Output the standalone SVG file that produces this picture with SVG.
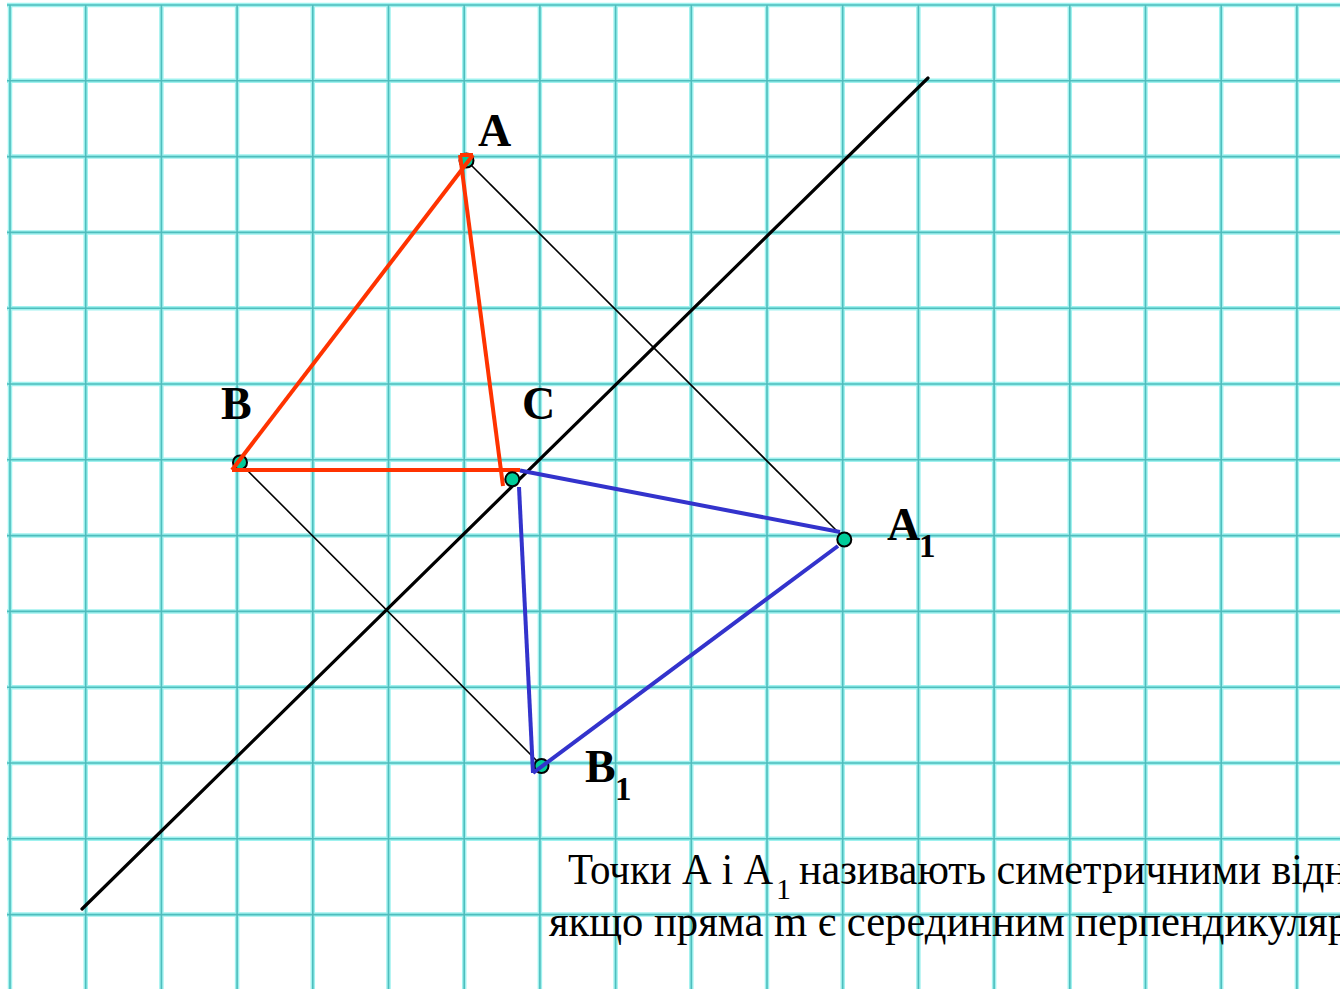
<svg xmlns="http://www.w3.org/2000/svg" width="1340" height="989" viewBox="0 0 1340 989">
<style>
.halo{stroke:#9ff2ef;stroke-width:4.5;fill:none}
.core{stroke:#4fbdbd;stroke-width:1.6;fill:none}
.axis{stroke:#000;stroke-width:3.2;fill:none;stroke-linecap:round}
.thin{stroke:#000;stroke-width:1.6;fill:none}
.red{stroke:#ff3300;stroke-width:4;fill:none;stroke-linecap:butt}
.blue{stroke:#3333cc;stroke-width:4;fill:none}
.pt{fill:#00cc99;stroke:#000;stroke-width:2}
.lbl{font-family:"Liberation Serif","Times New Roman",serif;font-weight:bold;font-size:46px;fill:#000}
.sub{font-family:"Liberation Serif","Times New Roman",serif;font-weight:bold;font-size:33px;fill:#000}
.txt{font-family:"Liberation Serif","Times New Roman",serif;font-size:45px;fill:#000}
.txtsub{font-family:"Liberation Serif","Times New Roman",serif;font-size:30px;fill:#000}
</style>
<rect x="0" y="0" width="1340" height="989" fill="#ffffff"/>
<g id="grid">
<path class="halo" d="M10 5V989M85.7 5V989M161.4 5V989M237.1 5V989M312.8 5V989M388.5 5V989M464.2 5V989M539.9 5V989M615.6 5V989M691.3 5V989M767 5V989M842.7 5V989M918.4 5V989M994.1 5V989M1069.8 5V989M1145.5 5V989M1221.2 5V989M1296.9 5V989M7 5H1340M7 80.8H1340M7 156.6H1340M7 232.4H1340M7 308.2H1340M7 384H1340M7 459.8H1340M7 535.6H1340M7 611.4H1340M7 687.2H1340M7 763H1340M7 838.8H1340M7 914.6H1340"/>
<path class="core" d="M10 5V989M85.7 5V989M161.4 5V989M237.1 5V989M312.8 5V989M388.5 5V989M464.2 5V989M539.9 5V989M615.6 5V989M691.3 5V989M767 5V989M842.7 5V989M918.4 5V989M994.1 5V989M1069.8 5V989M1145.5 5V989M1221.2 5V989M1296.9 5V989M7 5H1340M7 80.8H1340M7 156.6H1340M7 232.4H1340M7 308.2H1340M7 384H1340M7 459.8H1340M7 535.6H1340M7 611.4H1340M7 687.2H1340M7 763H1340M7 838.8H1340M7 914.6H1340"/>
</g>
<g id="line-m">
<line class="axis" x1="82" y1="909" x2="928" y2="78"/>
</g>
<g id="node-A">
<circle class="pt" cx="466.5" cy="160.5" r="7"/>
<text class="lbl" x="478" y="146">A</text>
</g>
<g id="node-B">
<circle class="pt" cx="240" cy="462.5" r="7"/>
<text class="lbl" x="221" y="419">B</text>
</g>
<g id="node-B1">
<circle class="pt" cx="541.5" cy="766" r="7"/>
<text class="lbl" x="585" y="782">B</text>
<text class="sub" x="615" y="800">1</text>
</g>
<g id="connectors">
<line class="thin" x1="471" y1="165" x2="840" y2="534"/>
<line class="thin" x1="244" y1="467" x2="537" y2="761"/>
<line class="red" x1="232" y1="470" x2="473" y2="155"/>
<line class="red" x1="460" y1="155" x2="473" y2="155"/>
<line class="red" x1="460" y1="155" x2="503" y2="486"/>
<line class="red" x1="232" y1="470" x2="520" y2="470"/>
<line class="blue" x1="520" y1="470.5" x2="840" y2="532"/>
<line class="blue" x1="519" y1="487" x2="533" y2="773"/>
<line class="blue" x1="533" y1="773" x2="838" y2="546"/>
</g>
<g id="node-C">
<circle class="pt" cx="512.3" cy="479.3" r="7"/>
<text class="lbl" x="522" y="419">C</text>
</g>
<g id="node-A1">
<circle class="pt" cx="844.3" cy="539.5" r="7"/>
<text class="lbl" x="887" y="540">A</text>
<text class="sub" x="919" y="557">1</text>
</g>
<g id="caption">
<text class="txt" x="568" y="884" textLength="205" lengthAdjust="spacingAndGlyphs">Точки А і А</text>
<text class="txtsub" x="776" y="899">1</text>
<text class="txt" x="799" y="884" textLength="548" lengthAdjust="spacingAndGlyphs">називають симетричними відн</text>
<text class="txt" x="549" y="936" textLength="800" lengthAdjust="spacingAndGlyphs">якщо пряма m є серединним перпендикуляр</text>
</g>
</svg>
